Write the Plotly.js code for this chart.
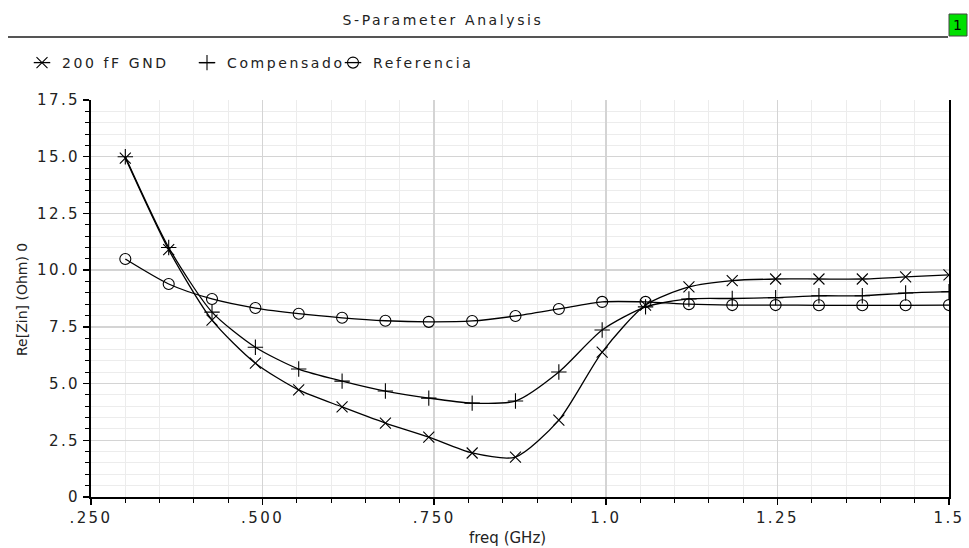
<!DOCTYPE html>
<html>
<head>
<meta charset="utf-8">
<script src="https://cdn.plot.ly/plotly-3.0.1.min.js"></script>
<style>
html,body{margin:0;padding:0;background:#fff;}
#chart{width:969px;height:548px;}
.legendtext, g[class*="legend"] text{letter-spacing:2.6px !important;}
g[class*="legend"] .legendlines path{transform-box:fill-box;transform-origin:center;transform:scaleX(0.55);}
.xtick text,.ytick text{letter-spacing:2.4px;}
.gtitle{letter-spacing:2.6px;}
</style>
</head>
<body>
<div id="chart"></div>
<script>
// Frequency samples (GHz) where markers are drawn
const freq = [0.3, 0.3632, 0.4263, 0.4895, 0.5526, 0.6158, 0.6789, 0.7421, 0.8053, 0.8684,
              0.9316, 0.9947, 1.0579, 1.1211, 1.1842, 1.2474, 1.3105, 1.3737, 1.4368, 1.5];
const gnd200 = [14.94, 10.9, 7.8, 5.9, 4.72, 3.97, 3.26, 2.64, 1.94, 1.76,
                3.39, 6.39, 8.46, 9.26, 9.54, 9.61, 9.61, 9.61, 9.70, 9.79];
const compensado = [15.0, 11.0, 8.15, 6.6, 5.64, 5.11, 4.67, 4.36, 4.14, 4.23,
                    5.51, 7.36, 8.38, 8.73, 8.75, 8.79, 8.87, 8.87, 8.99, 9.05];
const referencia = [10.49, 9.39, 8.73, 8.33, 8.08, 7.9, 7.77, 7.72, 7.76, 7.98,
                    8.29, 8.6, 8.6, 8.5, 8.46, 8.46, 8.45, 8.45, 8.45, 8.46];
const seriesNames = ['200 fF GND', 'Compensado', 'Referencia'];
const xTickVals = [0.25, 0.5, 0.75, 1.0, 1.25, 1.5];
const xTickText = ['.250', '.500', '.750', '1.0', '1.25', '1.5'];
const yTickVals = [0, 2.5, 5.0, 7.5, 10.0, 12.5, 15.0, 17.5];
const yTickText = ['0', '2.5', '5.0', '7.5', '10.0', '12.5', '15.0', '17.5'];

const FONT = 'DejaVu Sans, sans-serif';
function trace(name, y, symbol, legendId) {
  return {
    type: 'scatter', mode: 'lines+markers', name: name, x: freq, y: y, legend: legendId,
    line: {color: '#000', width: 1.3, shape: 'spline', smoothing: 0.7},
    marker: {symbol: symbol, size: 11, color: '#000', line: {color: '#000', width: 1.1}}
  };
}
const data = [
  trace(seriesNames[0], gnd200, 'x-thin-open', 'legend'),
  trace(seriesNames[1], compensado, 'cross-thin-open', 'legend2'),
  trace(seriesNames[2], referencia, 'circle-open', 'legend3')
];

const W = 969, H = 548, L = 91, R = 949, T = 100, B = 497;
const px = v => (v - L) / (R - L);
const py = v => (B - v) / (B - T);
function legendAt(xpix) {
  return {orientation: 'h', x: px(xpix), y: py(63), xanchor: 'left', yanchor: 'middle',
          font: {family: FONT, size: 14, color: '#222'}, itemwidth: 30,
          entrywidth: 140, entrywidthmode: 'pixels',
          bgcolor: 'rgba(0,0,0,0)'};
}

const layout = {
  width: W, height: H,
  margin: {l: L, r: W - R, t: T, b: H - B, pad: 0},
  paper_bgcolor: '#fff', plot_bgcolor: '#fff',
  font: {family: FONT, size: 14, color: '#222'},
  showlegend: true,
  legend: legendAt(22),
  legend2: legendAt(187),
  legend3: legendAt(333),
  title: {text: 'S-Parameter Analysis', x: 443 / W, xref: 'container', xanchor: 'center',
          y: 1 - 20 / H, yref: 'container', yanchor: 'middle',
          font: {family: FONT, size: 14, color: '#222'}},
  xaxis: {
    range: [0.25, 1.5], tickvals: xTickVals, ticktext: xTickText,
    ticks: 'outside', ticklen: 6, tickcolor: '#000', tickwidth: 1.5,
    showline: true, linecolor: '#000', linewidth: 2,
    showgrid: true, gridcolor: '#d4d4d4', gridwidth: 1.5, zeroline: false,
    tickfont: {family: FONT, size: 15, color: '#222'},
    minor: {dtick: 0.05, tick0: 0.25, ticks: 'outside', ticklen: 4, tickcolor: '#000', tickwidth: 1,
            showgrid: true, gridcolor: '#ececec', gridwidth: 1},
    title: {text: ''}
  },
  yaxis: {
    range: [0, 17.5], tickvals: yTickVals, ticktext: yTickText,
    ticks: 'outside', ticklen: 6, tickcolor: '#000', tickwidth: 1.5,
    showline: true, linecolor: '#000', linewidth: 2, mirror: true,
    showgrid: true, gridcolor: '#d4d4d4', gridwidth: 1.5, zeroline: false,
    tickfont: {family: FONT, size: 15, color: '#222'},
    minor: {dtick: 0.5, tick0: 0, ticks: 'outside', ticklen: 4, tickcolor: '#000', tickwidth: 1,
            showgrid: true, gridcolor: '#ececec', gridwidth: 1},
    title: {text: ''}
  },
  shapes: [
    {type: 'line', xref: 'paper', yref: 'paper', x0: px(8), x1: px(948), y0: py(37), y1: py(37),
     line: {color: '#555', width: 2}},
    {type: 'rect', xref: 'paper', yref: 'paper', x0: px(949), x1: px(967), y0: py(14), y1: py(36),
     fillcolor: '#00e000', line: {color: '#444', width: 1}}
  ],
  annotations: [
    {text: '1', xref: 'paper', yref: 'paper', x: px(958), y: py(25), showarrow: false,
     font: {family: FONT, size: 14, color: '#000'}, xanchor: 'center', yanchor: 'middle'},
    {text: 'freq (GHz)', xref: 'paper', yref: 'paper', x: px(507), y: py(538), showarrow: false,
     font: {family: FONT, size: 15, color: '#222'}, xanchor: 'center', yanchor: 'middle'},
    {text: 'Re[Zin] (Ohm) 0', xref: 'paper', yref: 'paper', x: px(22), y: py(300), showarrow: false,
     textangle: -90, font: {family: FONT, size: 14, color: '#222'}, xanchor: 'center', yanchor: 'middle'}
  ]
};
Plotly.newPlot('chart', data, layout, {displayModeBar: false, staticPlot: true});
</script>
</body>
</html>
